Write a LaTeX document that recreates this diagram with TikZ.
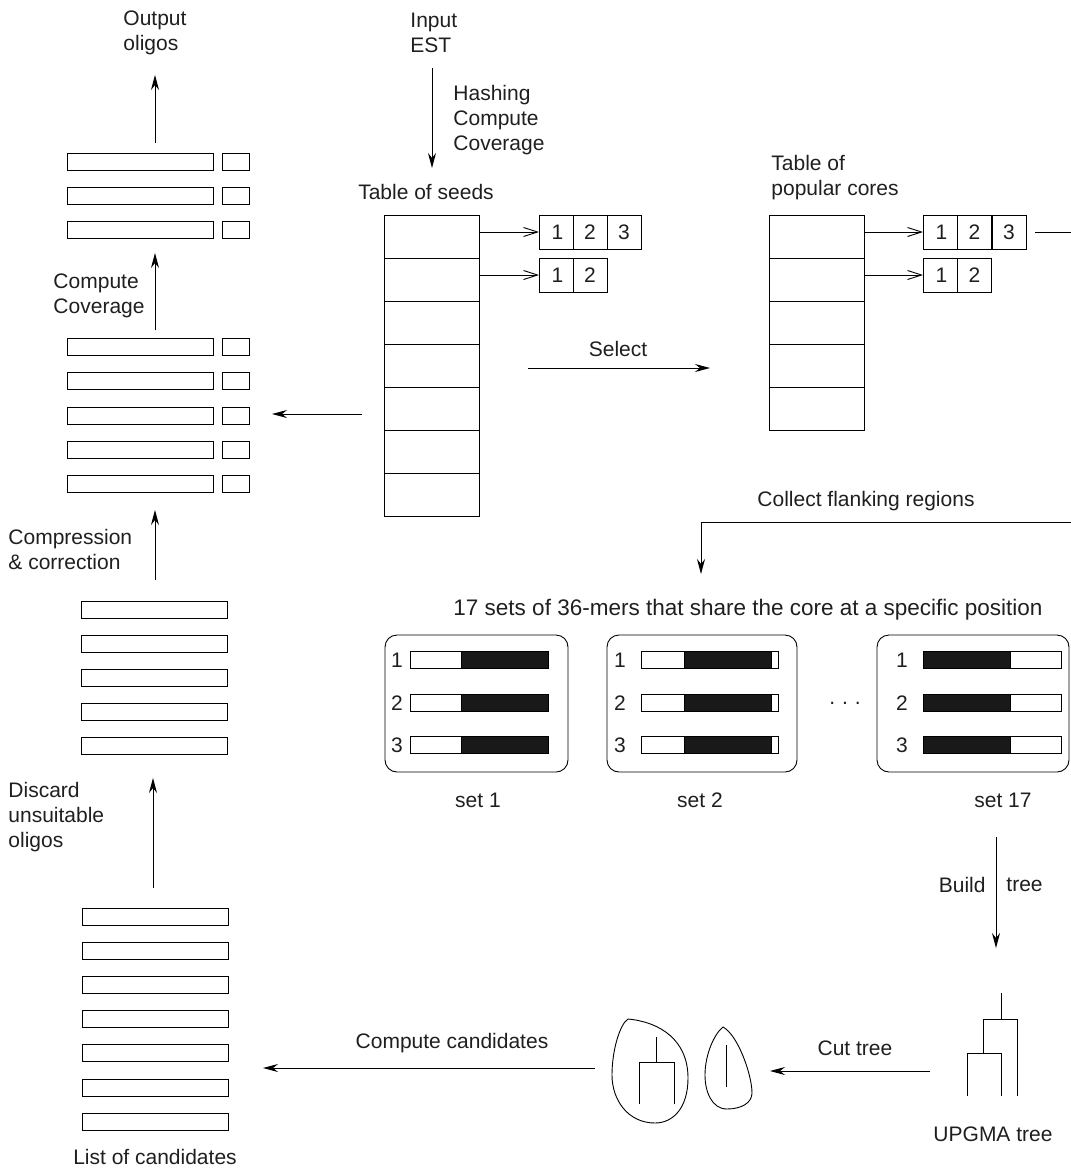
\documentclass[tikz,border=0pt]{standalone}
\usepackage{fontspec}
\setmainfont{Liberation Sans}
\usetikzlibrary{arrows.meta,calc}
\begin{document}
\begin{tikzpicture}[x=1pt,y=-1pt,line width=0.9pt,
  lbl/.style={font=\fontsize{21}{25}\selectfont,text=black!88,inner sep=0pt,align=center},
  lbll/.style={lbl,align=left},
  rowbox/.style={draw,minimum height=17pt,inner sep=0pt,outer sep=0pt},
  tabrow/.style={draw,minimum width=95pt,minimum height=43pt,inner sep=0pt,outer sep=0pt},
  cellbox/.style={draw,minimum width=34pt,minimum height=34pt,inner sep=0pt,outer sep=0pt,font=\fontsize{21}{22}\selectfont,text=black!88},
  setbox/.style={draw,rounded corners=12pt,inner sep=0pt,minimum height=137pt},
  fa/.style={-{Stealth[length=15pt,width=8pt,inset=5pt]}},
  oa/.style={-{Straight Barb[length=14pt,width=9pt]}},
]
\useasboundingbox (0,0) rectangle (1071,1171);

% ---------- left column ----------
\node[lbll,anchor=west] (outtxt) at (123,33) {Output\\oligos};
\foreach \i in {1,2,3}{
  \node[rowbox,minimum width=146pt] (a\i) at (140,{162+34*(\i-1)}) {};
  \node[rowbox,minimum width=27pt] (as\i) at (235.5,{162+34*(\i-1)}) {};
}
\coordinate (aup) at (155,143);
\coordinate (atip) at (155,75);
\draw[fa] (aup) -- (atip);
\node[lbll,anchor=east] (cc) at (145,296) {Compute\\Coverage};
\foreach \i in {1,...,5}{
  \node[rowbox,minimum width=146pt] (b\i) at (140,{347+34.25*(\i-1)}) {};
  \node[rowbox,minimum width=27pt] (bs\i) at (235.5,{347+34.25*(\i-1)}) {};
}
\coordinate (bup) at (155,330);
\coordinate (btip) at (155,253);
\draw[fa] (bup) -- (btip);
\node[lbll,anchor=west] (cmp) at (8,549) {Compression\\\& correction};
\foreach \i in {1,...,5}{
  \node[rowbox,minimum width=146pt] (c\i) at (154.5,{610+34*(\i-1)}) {};
}
\coordinate (cup) at (155,580);
\coordinate (ctip) at (155,510);
\draw[fa] (cup) -- (ctip);
\node[lbll,anchor=west] (disc) at (8,817) {Discard\\unsuitable\\oligos};
\foreach \i in {1,...,7}{
  \node[rowbox,minimum width=146pt] (d\i) at (155,{916.5+34.2*(\i-1)}) {};
}
\coordinate (dup) at (153,888);
\coordinate (dtip) at (153,778);
\draw[fa] (dup) -- (dtip);
\node[lbl] (loc) at (155,1157) {List of candidates};

% ---------- table of seeds ----------
\node[lbll,anchor=west] (inp) at (410,33) {Input\\EST};
\coordinate (inpS) at (432,68);
\coordinate (inpT) at (432,168);
\draw[fa] (inpS) -- (inpT);
\node[lbll,anchor=west] (hash) at (453,120) {Hashing\\Compute\\Coverage};
\node[lbl] (tos) at (426,192) {Table of seeds};
\foreach \i in {1,...,7}{
  \node[tabrow] (s\i) at (431.5,{236.5+43*(\i-1)}) {};
}
\node[cellbox] (p11) at (556,232) {\hspace*{3pt}1};
\node[cellbox] (p12) at (590,232) {2};
\node[cellbox] (p13) at (624,232) {3};
\node[cellbox] (p21) at (556,275) {\hspace*{3pt}1};
\node[cellbox] (p22) at (590,275) {2};
\draw[oa] (s1.east |- p11.west) -- (p11.west);
\draw[oa] (s2.east |- p21.west) -- (p21.west);

\node[lbl] (sel) at (618,349) {Select};
\coordinate (selS) at (528,368);
\coordinate (selT) at (710,368);
\draw[fa] (selS) -- (selT);
\coordinate (lftS) at (362,414);
\coordinate (lftT) at (272,414);
\draw[fa] (lftS) -- (lftT);

% ---------- popular cores ----------
\node[lbll,anchor=west] (topc) at (771,178) {Table of\\popular cores};
\foreach \i in {1,...,5}{
  \node[tabrow] (q\i) at (816.5,{236.5+43*(\i-1)}) {};
}
\node[cellbox] (r11) at (940,232) {\hspace*{3pt}1};
\node[cellbox] (r12) at (974.5,232) {2};
\node[cellbox] (r13) at (1009,232) {3};
\node[cellbox] (r21) at (940,275) {\hspace*{3pt}1};
\node[cellbox] (r22) at (974.5,275) {2};
\draw[oa] (q1.east |- r11.west) -- (r11.west);
\draw[oa] (q2.east |- r21.west) -- (r21.west);
\coordinate (edge1) at (1071,232);
\draw ([xshift=9pt]r13.east) -- (edge1);

% ---------- collect flanking ----------
\node[lbl] (cfr) at (866,501) {Collect flanking regions};
\coordinate (edge2) at (1071,522);
\coordinate (cfrT) at (701,574);
\draw[fa] (edge2) -| (cfrT);
\node[lbl,font=\fontsize{22.5}{25}\selectfont] (sets) at (748,610) {17 sets of 36-mers that share the core at a specific position};

% ---------- sets ----------
\node[setbox,minimum width=183pt] (set1) at (476.5,703.5) {};
\node[setbox,minimum width=190pt] (set2) at (702,703.5) {};
\node[setbox,minimum width=192pt] (set3) at (973,703.5) {};
\foreach \y [count=\k] in {660,703,745}{
  \node[lbl] at (397,\y) {\k};
  \draw[fill=white] (410,\y-8.5) rectangle (461,\y+8.5);
  \draw[fill=black!90] (461,\y-8.5) rectangle (548,\y+8.5);
  \node[lbl] at (620,\y) {\k};
  \draw[fill=white] (641,\y-8.5) rectangle (684,\y+8.5);
  \draw[fill=black!90] (684,\y-8.5) rectangle (771,\y+8.5);
  \draw[fill=white] (771,\y-8.5) rectangle (778,\y+8.5);
  \node[lbl] at (902,\y) {\k};
  \draw[fill=black!90] (923,\y-8.5) rectangle (1010,\y+8.5);
  \draw[fill=white] (1010,\y-8.5) rectangle (1061,\y+8.5);
}
\node[lbl] (l1) at (478,800) {set 1};
\node[lbl] (l2) at (700,800) {set 2};
\node[lbl] (l3) at (1003,800) {set 17};
\node[lbl] (dots) at (845,703) {.\,\,.\,\,.};

% ---------- build tree ----------
\coordinate (btS) at (996,837);
\coordinate (btT) at (996,948);
\draw[fa] (btS) -- (btT);
\node[lbl,anchor=east] (build) at (986,885) {Build};
\node[lbl,anchor=west] (treel) at (1006,885) {tree};

% UPGMA tree
\draw (1001,993) -- (1001,1019);
\draw (983,1053) -- (983,1019) -- (1017,1019) -- (1017,1096);
\draw (967,1096) -- (967,1053) -- (1001,1053) -- (1001,1096);
\node[lbl] (upg) at (993,1134) {UPGMA tree};

% cut tree
\node[lbl] (cut) at (855,1048) {Cut tree};
\coordinate (cutS) at (930,1071);
\coordinate (cutT) at (770,1071);
\draw[fa] (cutS) -- (cutT);

% blobs
\draw (628,1019) .. controls (660,1022) and (688,1040) .. (688,1078)
  .. controls (688,1108) and (673,1123) .. (655,1123)
  .. controls (628,1123) and (612,1100) .. (612,1075)
  .. controls (612,1050) and (620,1024) .. (628,1019) -- cycle;
\draw (656,1037) -- (656,1062);
\draw (639,1104) -- (639,1062) -- (674,1062) -- (674,1104);
\draw (723,1027) .. controls (738,1035) and (752,1075) .. (752,1093)
  .. controls (752,1103) and (741,1109) .. (727,1109)
  .. controls (712,1109) and (705,1092) .. (705,1075)
  .. controls (705,1055) and (714,1034) .. (723,1027) -- cycle;
\draw (726,1045) -- (726,1087);

% compute candidates
\node[lbl] (ccand) at (452,1043) {Compute candidates};
\coordinate (ccS) at (595,1068);
\coordinate (ccT) at (263,1068);
\draw[fa] (ccS) -- (ccT);
\end{tikzpicture}
\end{document}
